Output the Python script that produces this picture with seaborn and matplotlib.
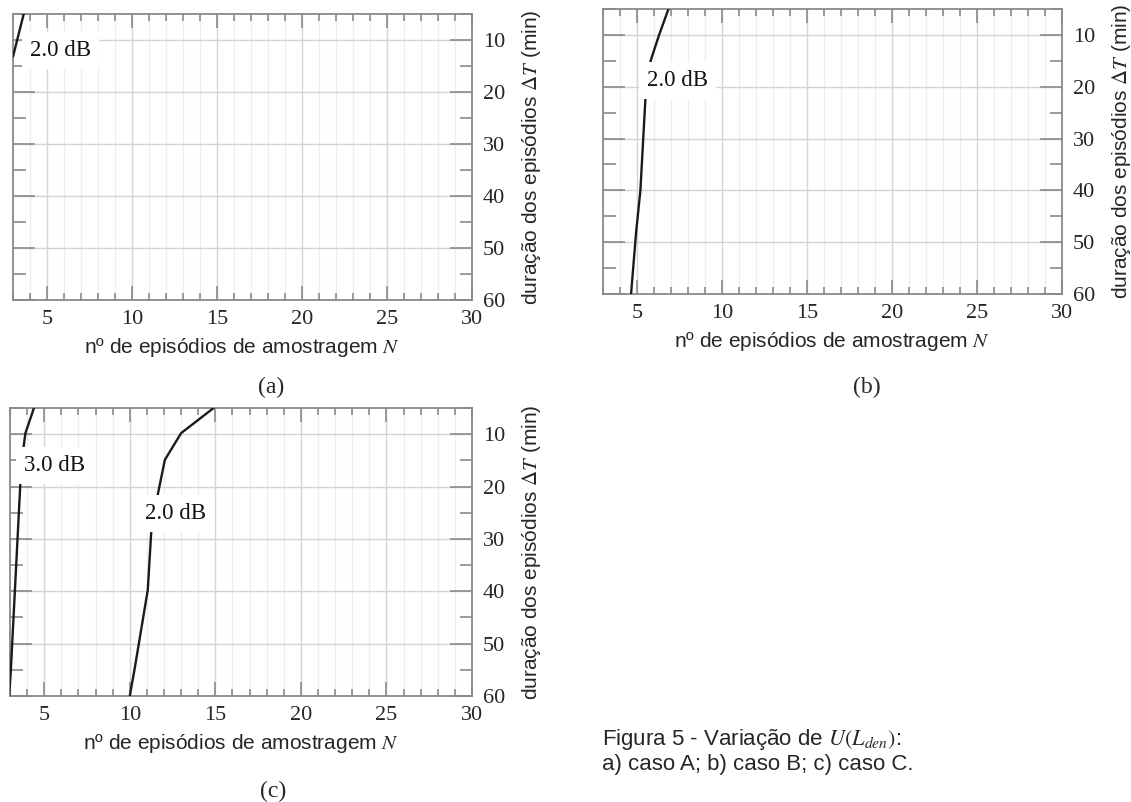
import matplotlib
matplotlib.use("Agg")
import matplotlib.pyplot as plt
from matplotlib.ticker import MultipleLocator
import seaborn as sns
import pandas as pd

# ---------------- data ----------------
n_ticks = [5, 10, 15, 20, 25, 30]
t_ticks = [10, 20, 30, 40, 50, 60]
n_tick_labels = ["5", "10", "15", "20", "25", "30"]
t_tick_labels = ["10", "20", "30", "40", "50", "60"]

# panel (a): 2.0 dB contour
a_2db_N = [3.63, 3.0]
a_2db_T = [5.0, 13.2]

# panel (b): 2.0 dB contour
b_2db_N = [6.85, 6.3, 5.8, 5.5, 5.2, 4.95, 4.65]
b_2db_T = [5.0, 10.0, 15.0, 22.0, 40.0, 48.0, 60.0]

# panel (c): 3.0 dB and 2.0 dB contours
c_3db_N = [4.4, 3.9, 3.8, 3.6, 3.05, 2.95]
c_3db_T = [5.0, 9.8, 12.3, 19.7, 55.0, 60.0]
c_2db_N = [14.9, 13.0, 12.05, 11.65, 11.25, 11.05, 10.3, 10.0]
c_2db_T = [5.0, 9.8, 14.9, 21.3, 28.9, 39.8, 54.5, 60.0]

# contour labels: text, N, T
a_labels = [("2.0 dB", 5.8, 12.1)]
b_labels = [("2.0 dB", 7.4, 18.8)]
c_labels = [("3.0 dB", 5.6, 16.0), ("2.0 dB", 12.7, 25.2)]

x_label = "nº de episódios de amostragem $N$"
y_label = r"duração dos episódios $\mathit{\Delta T}$ (min)"
panel_tags = ["(a)", "(b)", "(c)"]
caption_1 = "Figura 5 - Variação de $U(L_{den})$:"
caption_2 = "a) caso A; b) caso B; c) caso C."

# ---------------- style ----------------
sns.set_style("white")
plt.rcParams["font.family"] = ["Liberation Sans", "DejaVu Sans"]
plt.rcParams["mathtext.fontset"] = "stix"

W, H = 1131, 802
fig = plt.figure(figsize=(W / 100, H / 100), dpi=100)

SERIF = ["Liberation Serif", "DejaVu Serif"]
LINE_C = "#1a1a1a"
SPINE_C = "#8a8a8a"


def make_axes(box):
    l, t, r, b = box
    ax = fig.add_axes([l / W, 1 - b / H, (r - l) / W, (b - t) / H])
    return ax


def style_axes(ax, width_px, height_px):
    ax.set_xlim(3, 30)
    ax.set_ylim(60, 5)
    ax.set_xticks(n_ticks)
    ax.set_xticklabels(n_tick_labels)
    ax.set_yticks(t_ticks)
    ax.set_yticklabels(t_tick_labels)
    ax.xaxis.set_minor_locator(MultipleLocator(1))
    ax.yaxis.set_minor_locator(MultipleLocator(5))
    ax.grid(which="major", color="#d4d4d4", lw=1.0)
    ax.grid(which="minor", axis="x", color="#ededed", lw=0.9)
    ax.set_axisbelow(True)
    for s in ax.spines.values():
        s.set_visible(True)
        s.set_color(SPINE_C)
        s.set_linewidth(1.3)
    ax.tick_params(axis="x", which="both", direction="in", top=True, bottom=True,
                   color=SPINE_C, width=1.2, labelsize=16, pad=7)
    ax.tick_params(axis="x", which="major", length=10)
    ax.tick_params(axis="x", which="minor", length=5)
    ax.tick_params(axis="y", which="both", direction="in", left=True, right=True,
                   labelleft=False, labelright=True, color=SPINE_C, width=1.2,
                   labelsize=16, pad=8)
    ax.tick_params(axis="y", which="major", length=16)
    ax.tick_params(axis="y", which="minor", length=9)
    for lab in ax.get_xticklabels() + ax.get_yticklabels():
        lab.set_family(SERIF)
    ax.set_xlabel(x_label, fontsize=15)
    ax.xaxis.set_label_coords(0.5, -36 / height_px)
    ax.set_ylabel(y_label, fontsize=15)
    ax.yaxis.set_label_position("right")
    ax.yaxis.set_label_coords(1 + 48 / width_px, 0.5)


def draw_curve(ax, Ns, Ts):
    df = pd.DataFrame({"N": Ns, "T": Ts})
    sns.lineplot(data=df, x="N", y="T", ax=ax, sort=False, estimator=None,
                 color=LINE_C, lw=1.7, zorder=3)


def draw_labels(ax, labels):
    for txt, n, t in labels:
        ax.text(n, t, txt, ha="center", va="center", fontsize=16.5, family=SERIF,
                color="#111111", zorder=4,
                bbox=dict(boxstyle="square,pad=0.35", fc="white", ec="none"))


boxes = {
    "a": (13, 14, 472, 300),
    "b": (603, 9, 1062, 294),
    "c": (10, 408, 472, 696),
}

ax_a = make_axes(boxes["a"])
ax_b = make_axes(boxes["b"])
ax_c = make_axes(boxes["c"])

for key, ax in zip("abc", [ax_a, ax_b, ax_c]):
    l, t, r, b = boxes[key]
    style_axes(ax, r - l, b - t)

draw_curve(ax_a, a_2db_N, a_2db_T)
draw_labels(ax_a, a_labels)

draw_curve(ax_b, b_2db_N, b_2db_T)
draw_labels(ax_b, b_labels)

draw_curve(ax_c, c_3db_N, c_3db_T)
draw_curve(ax_c, c_2db_N, c_2db_T)
draw_labels(ax_c, c_labels)

# panel tags
tag_pos = [(271, 387), (867, 387), (273, 791)]
for tag, (x, y) in zip(panel_tags, tag_pos):
    fig.text(x / W, 1 - y / H, tag, ha="center", va="center", fontsize=17, family=SERIF)

# caption
fig.text(602 / W, 1 - 745 / H, caption_1, ha="left", va="baseline", fontsize=16)
fig.text(602 / W, 1 - 770 / H, caption_2, ha="left", va="baseline", fontsize=16)

fig.savefig("out.png", dpi=100, facecolor="white")
